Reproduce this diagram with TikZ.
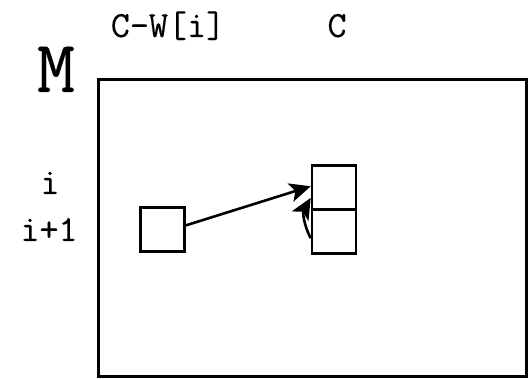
\documentclass[tikz,border=0pt]{standalone}
\usepackage{fontspec}
\usetikzlibrary{arrows.meta}
\newfontfamily\labelmono{Latin Modern Mono}[FakeBold=0.35]
\begin{document}
\begin{tikzpicture}[x=1pt,y=1pt,
  cell/.style={draw, line width=2.6pt, minimum width=44pt, minimum height=44pt, inner sep=0pt},
  lbl/.style={font=\labelmono\fontsize{37}{37}\selectfont, anchor=base, inner sep=0pt},
  big/.style={font=\labelmono\fontsize{74}{74}\selectfont, anchor=base, inner sep=0pt},
  link/.style={line width=2.6pt, -{Stealth[length=21pt,width=19pt,inset=5pt]}}]
  \useasboundingbox (0,0) rectangle (530,379);

  % matrix frame
  \node[draw, line width=3pt, minimum width=428pt, minimum height=297pt, inner sep=0pt] (frame) at (312,150.5) {};

  % labels
  \node[big] (m) at (56,287) {M};
  \node[lbl] (cw) at (168,342) {C-W[i]};
  \node[lbl] (c) at (337,342) {C};
  \node[lbl] (ri) at (50,185) {i};
  \node[lbl] (ri1) at (49,138) {i+1};

  % cells
  \node[cell] (src) at (162.5,149.5) {};
  \node[cell] (rt) at (334,191.5) {};
  \node[cell] (rb) at (334,147.5) {};

  % dependencies
  \draw[link] (src.10) -- (rt.177);
  \draw[link] (rb.196) to[out=118, in=240] (rt.204);
\end{tikzpicture}
\end{document}
